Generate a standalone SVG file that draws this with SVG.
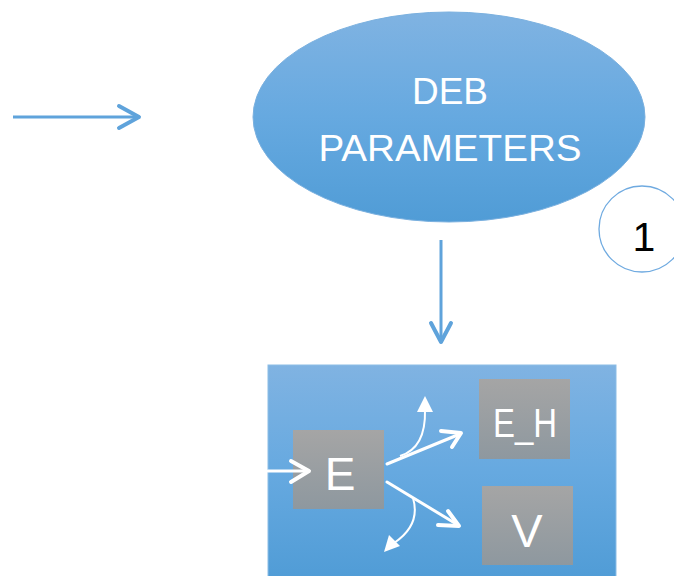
<svg xmlns="http://www.w3.org/2000/svg" width="674" height="576" viewBox="0 0 674 576">
<defs>
<linearGradient id="blue" x1="0" y1="0" x2="0" y2="1">
<stop offset="0" stop-color="#80B3E2"/>
<stop offset="0.5" stop-color="#66A9E0"/>
<stop offset="1" stop-color="#509CD6"/>
</linearGradient>
<linearGradient id="gray" x1="0" y1="0" x2="0" y2="1">
<stop offset="0" stop-color="#A5A5A5"/>
<stop offset="1" stop-color="#8E989F"/>
</linearGradient>
</defs>
<style>
.lbl{font-family:"Liberation Sans",Arial,sans-serif;fill:#FFFFFF;text-anchor:middle}
.blueline{stroke:#5FA3DB;stroke-width:3;fill:none}
.bluehead{stroke:#5FA3DB;stroke-width:4;fill:none;stroke-linecap:round;stroke-linejoin:round}
.whiteline{stroke:#FFFFFF;stroke-width:3;fill:none;stroke-linecap:round}
.whitehead{stroke:#FFFFFF;stroke-width:4;fill:none;stroke-linecap:round;stroke-linejoin:round}
.thin{stroke:#FFFFFF;stroke-width:2;fill:none}
.tri{fill:#FFFFFF}
</style>
<g id="deb-parameters">
<ellipse cx="449" cy="117" rx="196" ry="105" fill="url(#blue)" stroke="#7AB0DF" stroke-width="1"/>
<text class="lbl" x="450" y="104" font-size="37" textLength="76" lengthAdjust="spacingAndGlyphs">DEB</text>
<text class="lbl" x="450" y="161" font-size="37" textLength="263" lengthAdjust="spacingAndGlyphs">PARAMETERS</text>
</g>
<g id="badge-1">
<circle cx="642" cy="229" r="43" fill="#FFFFFF" stroke="#6FAAE0" stroke-width="1.3"/>
<text x="644" y="251" font-family="'Liberation Sans',Arial,sans-serif" font-size="41" fill="#000000" text-anchor="middle">1</text>
</g>
<g id="model-box">
<rect x="268" y="365" width="348" height="215" fill="url(#blue)" stroke="#8CBDE6" stroke-width="1"/>
</g>
<g id="node-E">
<rect x="293" y="430" width="91" height="79" fill="url(#gray)"/>
<text class="lbl" x="340" y="490" font-size="46">E</text>
</g>
<g id="node-EH">
<rect x="479" y="379" width="91" height="80" fill="url(#gray)"/>
<text class="lbl" x="525" y="437" font-size="41" textLength="64" lengthAdjust="spacingAndGlyphs">E_H</text>
</g>
<g id="node-V">
<rect x="482" y="486" width="91" height="79" fill="url(#gray)"/>
<text class="lbl" x="527" y="547" font-size="47">V</text>
</g>
<g id="connectors">
<line class="blueline" x1="13" y1="117" x2="138" y2="117"/>
<path class="bluehead" d="M119,106 L139,117 L119,128"/>
<line class="blueline" x1="441" y1="240" x2="441" y2="341"/>
<path class="bluehead" d="M431,323 L441,342 L451,323"/>
<line class="whiteline" x1="268" y1="471" x2="308" y2="471"/>
<path class="whitehead" d="M291,461 L309,471 L291,482"/>
<line class="whiteline" x1="387" y1="464" x2="460" y2="434"/>
<path class="whitehead" d="M441,431 L461,433 L452,447"/>
<line class="whiteline" x1="387" y1="482" x2="458" y2="525"/>
<path class="whitehead" d="M448,511 L459,526 L438,525"/>
<path class="thin" d="M400,456 Q426,448 425,410"/>
<path class="tri" d="M425,396 L433,412 L417,412 Z"/>
<path class="thin" d="M413,498 Q421,525 394,543"/>
<path class="tri" d="M384,552 L389,535 L400,546 Z"/>
</g>
</svg>
